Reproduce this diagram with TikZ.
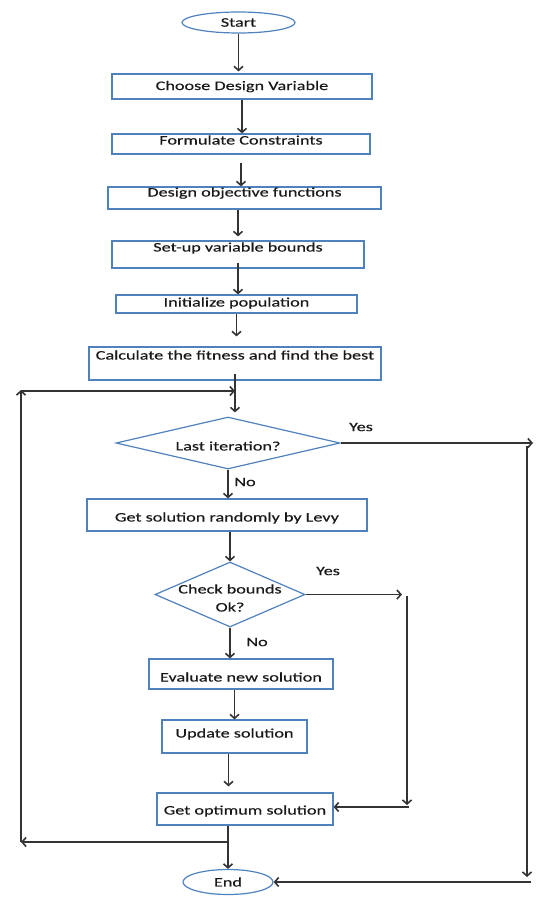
\documentclass[tikz,border=0pt]{standalone}
\usepackage{fontspec}
\setmainfont[FakeStretch=1.4, FakeBold=0.4]{Carlito}
\usetikzlibrary{
	calc, positioning, arrows.meta, shapes.geometric
}
\definecolor{boxblue}{HTML}{4F81BD}
\tikzset{
	>={Straight Barb[length=4pt,width=9pt]},
	stepbox/.style={
		rectangle,
		draw=boxblue,
		line width=1.2pt,
		inner sep=0pt,
		text height=9pt,
		text depth=2pt,
		text centered},
	decide/.style={
		diamond,
		draw=boxblue,
		line width=1.2pt,
		inner sep=0pt,
		align=center},
	terminal/.style={
		ellipse,
		draw=boxblue,
		line width=1.2pt,
		inner sep=0pt},
	line/.style={draw=black!80, line width=1.6pt, ->},
	tag/.style={inner sep=0pt},
}

\begin{document}
\begin{tikzpicture}[x=1pt, y=-1pt,
	every node/.append style={font=\fontsize{13}{18}\selectfont, text=black!90}]
	\useasboundingbox (0,0) rectangle (540,897);

	% main column
	\node [terminal, minimum width=113pt, minimum height=21pt] (start) at (238.5,22.5) {Start};
	\node [stepbox, minimum width=260pt, minimum height=25pt] (choose) at (242,86.5) {Choose Design Variable};
	\node [stepbox, minimum width=258pt, minimum height=20pt, text depth=8pt] (formulate) at (241,144) {Formulate Constraints};
	\node [stepbox, minimum width=273pt, minimum height=22pt, text depth=12pt] (design) at (244.5,198) {Design objective functions};
	\node [stepbox, minimum width=252pt, minimum height=27pt, text depth=15pt] (setup) at (238,254.5) {Set-up variable bounds};
	\node [stepbox, minimum width=241pt, minimum height=18pt, text depth=4pt] (init) at (236.5,304) {Initialize population};
	\node [stepbox, minimum width=292pt, minimum height=33pt, text depth=17pt] (calc) at (235,363.5) {Calculate the fitness and find the best};
	\node [decide, aspect=4.3, minimum width=224pt, minimum height=52pt, text height=15pt] (last) at (228,443) {Last iteration?};
	\node [stepbox, minimum width=280pt, minimum height=32pt, text height=15pt] (levy) at (227,515) {Get solution randomly by Levy};
	\node [decide, aspect=2.3, minimum width=150pt, minimum height=65pt,
		label={[tag, align=center, yshift=-3.5pt]center:Check bounds\\Ok?}] (check) at (230,594.5) {};
	\node [stepbox, minimum width=184pt, minimum height=30pt, text height=17pt] (eval) at (241,674) {Evaluate new solution};
	\node [stepbox, minimum width=145pt, minimum height=33pt, text depth=7pt] (update) at (234.5,736.5) {Update solution};
	\node [stepbox, minimum width=176pt, minimum height=32pt, text height=13pt] (opt) at (245,809) {Get optimum solution};
	\node [terminal, minimum width=90pt, minimum height=25pt] (end) at (228,882) {End};

	% branch labels
	\node [tag] (yes1) at (361,427) {Yes};
	\node [tag] (no1) at (245,482) {No};
	\node [tag] (yes2) at (328,571) {Yes};
	\node [tag] (no2) at (257,642) {No};

	% loop corners
	\coordinate (lastout) at (533,443);
	\coordinate (rtop) at (527,446);
	\coordinate (rbot) at (527,877);
	\coordinate (rend) at (531,882);
	\coordinate (chkout) at (402,594.5);
	\coordinate (ctop) at (407,596);
	\coordinate (cbot) at (407,805);
	\coordinate (cend) at (409,807);
	\coordinate (split) at (228,842);
	\coordinate (lbot) at (21,842);
	\coordinate (ltop) at (21,390);
	\coordinate (merge) at (235,391);

	% flow
	\draw [line, shorten >=2pt] (start) -- (start |- choose.north);
	\draw [line] (choose) -- (choose |- formulate.north);
	\draw [line, shorten <=8pt] (formulate) -- (formulate |- design.north);
	\draw [line, shorten >=4pt] (setup.north |- design.south) -- (setup.north);
	\draw [line, shorten <=-6pt] (setup.south) -- (setup.south |- init.north);
	\draw [line, shorten >=10pt] (init) -- (init |- calc.north);
	\draw [line, shorten <=-7pt, shorten >=4pt] (calc.south) -- (calc.south |- last.north);
	\draw [line] (last) -- (last |- levy.north);
	\draw [line] (check.north |- levy.south) -- (check.north);
	\draw [line] (check) -- (check |- eval.north);
	\draw [line] (update.north |- eval.south) -- (update.north);
	\draw [line, shorten >=6pt] ([xshift=-6pt]update.south) -- ([xshift=-6pt]update.south |- opt.north);
	\draw [line] (end.north |- opt.south) -- (end.north);

	\draw [line] (last.east) -- (lastout);
	\draw [line] (rtop) -- (rbot);
	\draw [line] (rend) -- (end.east);

	\draw [line] (check.east) -- (chkout);
	\draw [line] (ctop) -- (cbot);
	\draw [line] (cend) -- (opt.east |- cend);

	\draw [line] (split) -- (lbot);
	\draw [line] (lbot) -- (ltop);
	\draw [line] (ltop |- merge) -- (merge);
\end{tikzpicture}
\end{document}
